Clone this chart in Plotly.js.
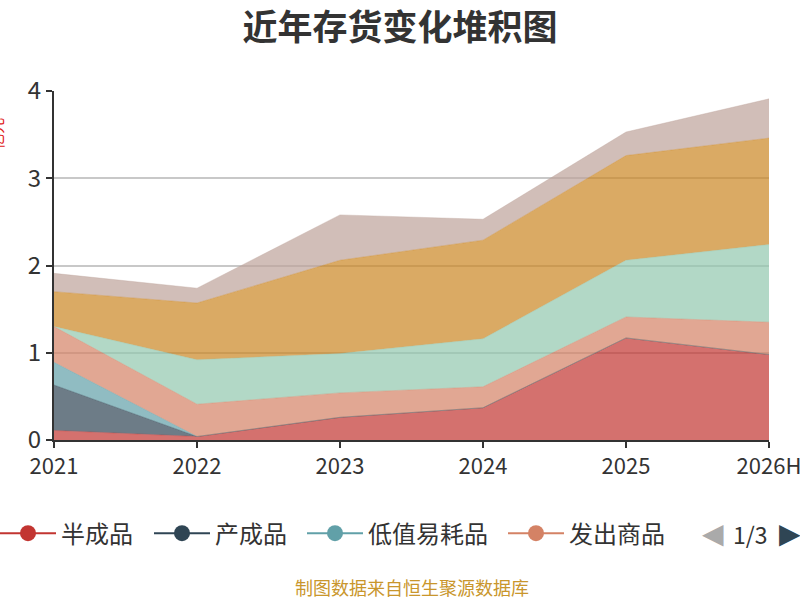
<!DOCTYPE html>
<html>
<head>
<meta charset="utf-8">
<script src="https://cdn.plot.ly/plotly-3.0.1.min.js"></script>
<style>
  html, body {margin: 0; padding: 0; background: #fff;}
  #chart {width: 800px; height: 600px;}
</style>
</head>
<body>
<div id="chart"></div>
<script>
// 年份
const years = ['2021', '2022', '2023', '2024', '2025', '2026H'];

// 各类存货（亿元），自下而上堆积
const banchengpin = [0.11, 0.04, 0.26, 0.37, 1.17, 0.98];   // 半成品
const chanchengpin = [0.52, 0.00, 0.00, 0.00, 0.00, 0.00];  // 产成品
const dizhi = [0.26, 0.00, 0.00, 0.00, 0.00, 0.00];         // 低值易耗品
const fachu = [0.41, 0.37, 0.28, 0.24, 0.24, 0.37];         // 发出商品
const kucun = [0.00, 0.51, 0.45, 0.55, 0.65, 0.89];         // 库存商品
const yuancailiao = [0.40, 0.65, 1.07, 1.13, 1.20, 1.22];   // 原材料
const zaichanpin = [0.21, 0.17, 0.52, 0.24, 0.27, 0.45];    // 在产品

const series_names = ['半成品', '产成品', '低值易耗品', '发出商品', '库存商品', '原材料', '在产品'];
const series_values = [banchengpin, chanchengpin, dizhi, fachu, kucun, yuancailiao, zaichanpin];
const series_colors = ['#c23531', '#2f4554', '#61a0a8', '#d48265', '#91c7ae', '#ca8622', '#bda29a'];
// 图例第一页显示的条目数
const legend_page_size = 4;

const font_family = '"Noto Sans CJK SC", "Noto Sans", sans-serif';

const hex_to_rgba = (hex, alpha) => {
    const n = parseInt(hex.slice(1), 16);
    return `rgba(${(n >> 16) & 255},${(n >> 8) & 255},${n & 255},${alpha})`;
}

const area_traces = series_names.map((name, index) => ({
    type: 'scatter',
    mode: 'lines',
    x: years,
    y: series_values[index],
    name: name,
    stackgroup: 'one',
    fillcolor: hex_to_rgba(series_colors[index], 0.7),
    line: {color: hex_to_rgba(series_colors[index], 0.35), width: 1},
    showlegend: false,
    hoverinfo: 'x+y+name'
}));

// 每个图例条目单独一个 legend，便于按原图摆放
const legend_ids = ['legend', 'legend2', 'legend3', 'legend4'];
const legend_px = [-5, 149, 302, 503];
const legend_y = -0.268;

const legend_traces = series_names.slice(0, legend_page_size).map((name, index) => ({
    type: 'scatter',
    mode: 'lines+markers',
    x: [null],
    y: [null],
    name: name,
    legend: legend_ids[index],
    line: {color: series_colors[index], width: 2},
    marker: {color: series_colors[index], size: 22},
    showlegend: true
}));

const legend_style = (px) => ({
    orientation: 'h',
    x: (px - 54) / 715,
    xanchor: 'left',
    y: legend_y,
    yanchor: 'middle',
    font: {size: 24, color: '#333', family: font_family},
    itemwidth: 56,
    itemsizing: 'trace',
    bgcolor: 'rgba(0,0,0,0)'
});

const layout = {
    width: 800,
    height: 600,
    margin: {l: 54, r: 31, t: 91, b: 160, autoexpand: false},
    paper_bgcolor: '#fff',
    plot_bgcolor: '#fff',
    font: {family: font_family, color: '#333'},
    title: {
        text: '<b>近年存货变化堆积图</b>',
        font: {size: 35, color: '#333', family: font_family},
        x: 0.5,
        xanchor: 'center',
        y: 0.953,
        yanchor: 'middle'
    },
    xaxis: {
        type: 'category',
        range: [0, years.length - 1],
        showgrid: false,
        showline: true,
        linecolor: '#333',
        linewidth: 2,
        ticks: 'outside',
        ticklen: 6,
        tickwidth: 2,
        tickcolor: '#333',
        tickfont: {size: 22, color: '#333'},
        zeroline: false,
        fixedrange: true
    },
    yaxis: {
        range: [0, 4],
        dtick: 1,
        showgrid: true,
        gridcolor: '#c8c8c8',
        gridwidth: 2,
        showline: true,
        linecolor: '#333',
        linewidth: 2,
        ticks: 'outside',
        ticklen: 6,
        tickwidth: 2,
        tickcolor: '#333',
        tickfont: {size: 24, color: '#333'},
        zeroline: false,
        fixedrange: true
    },
    showlegend: true,
    legend: legend_style(legend_px[0]),
    legend2: legend_style(legend_px[1]),
    legend3: legend_style(legend_px[2]),
    legend4: legend_style(legend_px[3]),
    annotations: [
        {
            xref: 'paper', yref: 'paper',
            x: -0.1, y: 0.928,
            text: '亿元',
            textangle: -90,
            showarrow: false,
            font: {size: 16, color: '#e02020'}
        },
        {
            xref: 'paper', yref: 'paper',
            x: 0.922, y: legend_y,
            xanchor: 'center', yanchor: 'middle',
            text: '◀',
            showarrow: false,
            font: {size: 28, color: '#aaaaaa', family: 'DejaVu Sans'}
        },
        {
            xref: 'paper', yref: 'paper',
            x: 0.974, y: legend_y,
            xanchor: 'center', yanchor: 'middle',
            text: '1/3',
            showarrow: false,
            font: {size: 23, color: '#333'}
        },
        {
            xref: 'paper', yref: 'paper',
            x: 1.029, y: legend_y,
            xanchor: 'center', yanchor: 'middle',
            text: '▶',
            showarrow: false,
            font: {size: 28, color: '#2f4554', family: 'DejaVu Sans'}
        },
        {
            xref: 'paper', yref: 'paper',
            x: 0.5, y: -0.422,
            xanchor: 'center', yanchor: 'middle',
            text: '制图数据来自恒生聚源数据库',
            showarrow: false,
            font: {size: 18, color: '#c9962c'}
        }
    ]
};

Plotly.newPlot('chart', area_traces.concat(legend_traces), layout, {displayModeBar: false, staticPlot: true});
</script>
</body>
</html>
